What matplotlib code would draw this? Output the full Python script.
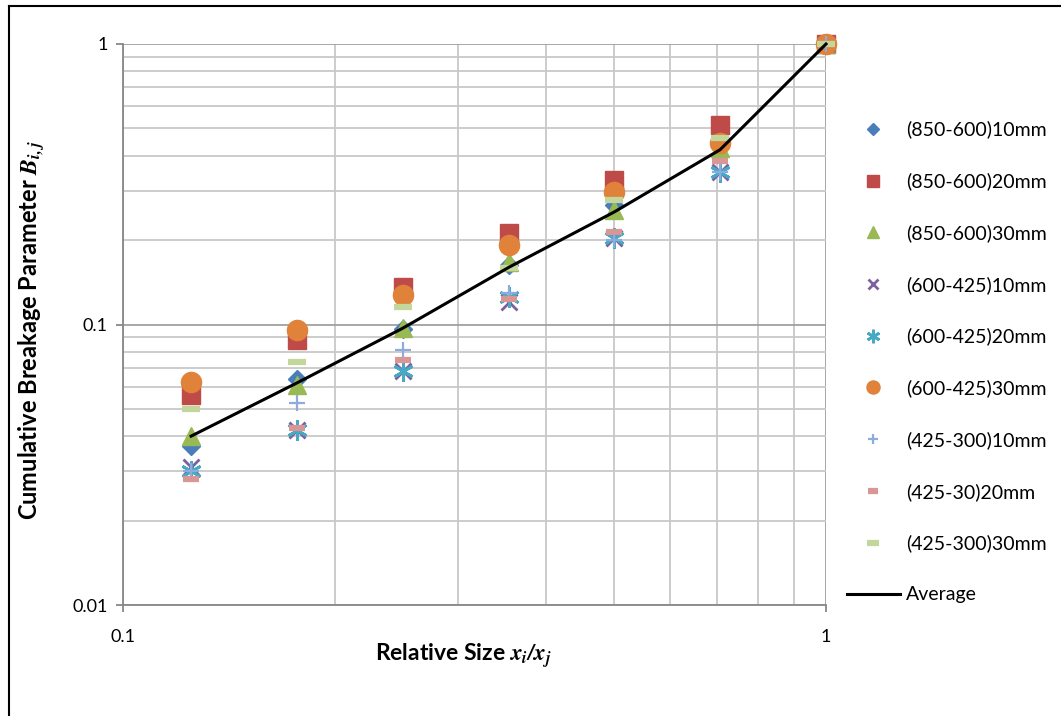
import matplotlib
matplotlib.use("Agg")
import matplotlib.pyplot as plt
from matplotlib.lines import Line2D
from matplotlib.ticker import LogLocator, FixedLocator, FixedFormatter, NullFormatter

plt.rcParams['font.family'] = ['Lato', 'DejaVu Sans']
plt.rcParams['mathtext.fontset'] = 'stix'

# ---- data ----
relative_size = [0.125, 0.177, 0.25, 0.354, 0.5, 0.707, 1.0]

s850_600_10 = [0.037, 0.064, 0.096, 0.163, 0.267, 0.43, 1.0]
s850_600_20 = [0.056, 0.088, 0.136, 0.212, 0.327, 0.514, 1.0]
s850_600_30 = [0.040, 0.061, 0.097, 0.167, 0.256, 0.426, 1.0]
s600_425_10 = [0.031, 0.042, 0.068, 0.12, 0.203, 0.35, 1.0]
s600_425_20 = [0.030, 0.042, 0.068, 0.125, 0.203, 0.35, 1.0]
s600_425_30 = [0.0624, 0.0955, 0.127, 0.192, 0.297, 0.444, 1.0]
s425_300_10 = [0.030, 0.0525, 0.081, 0.13, 0.20, 0.35, 1.0]
s425_30_20 = [0.0281, 0.0428, 0.0747, 0.123, 0.214, 0.383, 1.0]
s425_300_30 = [0.050, 0.0735, 0.115, 0.159, 0.278, 0.462, 1.0]
average = [0.040, 0.062, 0.097, 0.16, 0.252, 0.42, 1.0]

labels = ["(850-600)10mm", "(850-600)20mm", "(850-600)30mm",
          "(600-425)10mm", "(600-425)20mm", "(600-425)30mm",
          "(425-300)10mm", "(425-30)20mm", "(425-300)30mm"]

series = [s850_600_10, s850_600_20, s850_600_30,
          s600_425_10, s600_425_20, s600_425_30,
          s425_300_10, s425_30_20, s425_300_30]

styles = [
    dict(marker='D', ms=9.5, color='#4A7EBB', mec='#4A7EBB'),
    dict(marker='s', ms=13.5, color='#BE4B48', mec='#BE4B48'),
    dict(marker='^', ms=13, color='#98B954', mec='#98B954'),
    dict(marker='x', ms=11, color='#7D60A0', mew=2.0),
    dict(marker=(6, 2, 0), ms=15, color='#46AAC5', mew=2.0),
    dict(marker='o', ms=14.5, color='#E0823A', mec='#E0823A'),
    dict(marker='+', ms=12, color='#8FAADC', mew=1.6),
    dict(marker='_', ms=11, color='#D99694', mew=4.5),
    dict(marker='_', ms=13, color='#C3D69B', mew=4.5),
]

fig = plt.figure(figsize=(10.61, 7.16), dpi=100)
ax = fig.add_axes([123/1061, 1-605/716, (826-123)/1061, (605-44)/716])

handles = []
for vals, lab, st in zip(series, labels, styles):
    h, = ax.plot(relative_size, vals, linestyle='none', label=lab, zorder=3,
                 clip_on=False, **st)
    handles.append(h)

h_avg, = ax.plot(relative_size, average, color='black', lw=2.2, label='Average',
                 zorder=4, clip_on=False)
handles.append(h_avg)

ax.set_xscale('log')
ax.set_yscale('log')
ax.set_xlim(0.1, 1)
ax.set_ylim(0.01, 1)

ax.xaxis.set_major_locator(FixedLocator([0.1, 1]))
ax.xaxis.set_major_formatter(FixedFormatter(['0.1', '1']))
ax.yaxis.set_major_locator(FixedLocator([0.01, 0.1, 1]))
ax.yaxis.set_major_formatter(FixedFormatter(['0.01', '0.1', '1']))
ax.xaxis.set_minor_locator(LogLocator(base=10, subs=range(2, 10)))
ax.yaxis.set_minor_locator(LogLocator(base=10, subs=range(2, 10)))
ax.xaxis.set_minor_formatter(NullFormatter())
ax.yaxis.set_minor_formatter(NullFormatter())

ax.grid(which='major', color='#A0A0A0', lw=1.3, zorder=0)
ax.grid(which='minor', color='#C8C8C8', lw=1.3, zorder=0)
ax.set_axisbelow(True)

for side in ['top', 'right']:
    ax.spines[side].set_visible(False)
for side in ['left', 'bottom']:
    ax.spines[side].set_color('#888888')
    ax.spines[side].set_linewidth(1.3)

ax.tick_params(which='major', direction='out', length=5, width=1.3, color='#888888',
               labelsize=13, pad=6, labelcolor='black')
ax.tick_params(which='minor', length=0)
ax.tick_params(axis='x', pad=12)

ax.set_xlabel(r'Relative Size $\mathbfit{x_i/x_j}$', fontsize=16.5, fontweight='bold')
ax.xaxis.set_label_coords((464 - 123) / 703, (605 - 641) / 561)
ax.set_ylabel(r'Cumulative Breakage Parameter $\mathbfit{B_{i,j}}$', fontsize=17,
              fontweight='bold')
ax.yaxis.set_label_coords((47 - 123) / 703, 0.49)

leg = fig.legend(handles=handles, loc='center left',
                 bbox_to_anchor=(847/1061, 1-362/716), frameon=False,
                 fontsize=14, markerscale=0.65, handlelength=2.7, handletextpad=0.35,
                 labelspacing=1.74, borderpad=0, borderaxespad=0, numpoints=1)

# outer border (left and top)
fig.add_artist(Line2D([9/1061, 9/1061], [0, 1-6/716], transform=fig.transFigure,
                      color='black', lw=1.5))
fig.add_artist(Line2D([9/1061, 1], [1-6/716, 1-6/716], transform=fig.transFigure,
                      color='black', lw=1.5))

fig.savefig('out.png', dpi=100)
